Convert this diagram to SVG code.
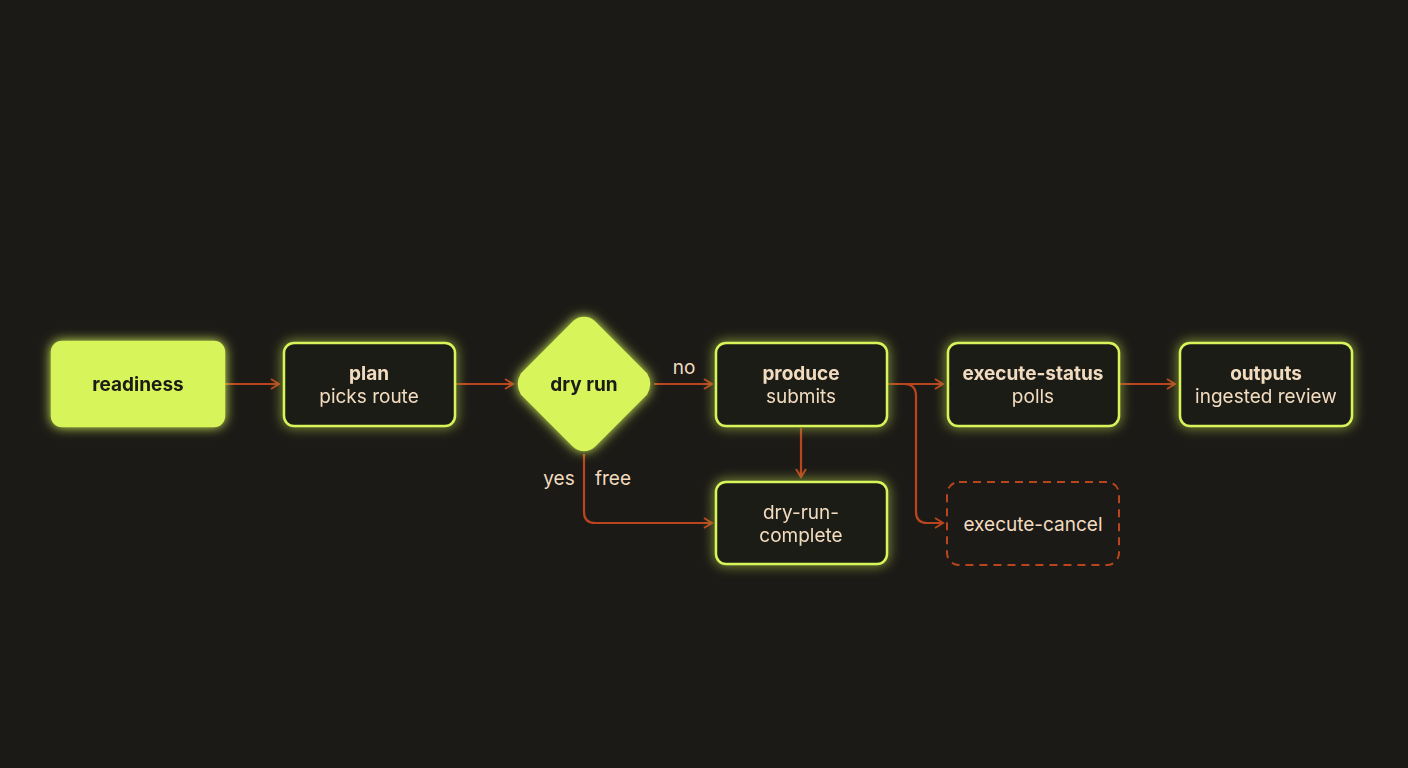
<svg xmlns="http://www.w3.org/2000/svg" width="1408" height="768" viewBox="0 0 1408 768">
<defs>
<filter id="glow" x="-30%" y="-30%" width="160%" height="160%"><feGaussianBlur stdDeviation="6" result="b"/><feMerge><feMergeNode in="b"/><feMergeNode in="SourceGraphic"/></feMerge></filter>
<marker id="ah" viewBox="0 0 12 12" refX="10" refY="6" markerWidth="12" markerHeight="12" markerUnits="userSpaceOnUse" orient="auto"><path d="M2,1 L10,6 L2,11" fill="none" stroke="#b8451e" stroke-width="2"/></marker>
<style>
.box{fill:#1c1a16;stroke:#d7f55a;stroke-width:2.5}
.fill{fill:#d7f55a;stroke:#d7f55a;stroke-width:2.5}
.t{font-family:Inter,"Liberation Sans",sans-serif;font-size:19px;fill:#f2dcc0;text-anchor:middle}
.b{font-weight:700}
.d{fill:#1c1a16}
.c{fill:none;stroke:#b8451e;stroke-width:2.2}
</style>
</defs>
<rect width="1408" height="768" fill="#1c1a16"/>
<g id="connectors">
<path class="c" d="M225,384 H279" marker-end="url(#ah)"/>
<path class="c" d="M456,384 H513" marker-end="url(#ah)"/>
<path class="c" d="M654,384 H712" marker-end="url(#ah)"/>
<path class="c" d="M801,428 V477" marker-end="url(#ah)"/>
<path class="c" d="M584,454 V512 Q584,523 595,523 H712" marker-end="url(#ah)"/>
<path class="c" d="M888,384 H943" marker-end="url(#ah)"/>
<path class="c" d="M904,384 Q916,384 916,396 V512 Q916,523 927,523 H943" marker-end="url(#ah)"/>
<path class="c" d="M1120,384 H1175" marker-end="url(#ah)"/>
<text class="t" x="684" y="374">no</text>
<text class="t" x="559" y="485">yes</text>
<text class="t" x="613" y="485">free</text>
</g>
<g id="readiness" filter="url(#glow)"><rect class="fill" x="52" y="342" width="172" height="84" rx="10"/><text class="t b d" x="138" y="391">readiness</text></g>
<g id="plan" filter="url(#glow)"><rect class="box" x="284" y="343" width="171" height="83" rx="10"/><text class="t b" x="369" y="380">plan</text><text class="t" x="369" y="403">picks route</text></g>
<g id="dryrun" filter="url(#glow)"><path class="fill" d="M584,318 Q590,318 594,322 L646,374 Q652,384 646,394 L594,446 Q584,454 574,446 L522,394 Q516,384 522,374 L574,322 Q578,318 584,318 Z"/><text class="t b d" x="584" y="391">dry run</text></g>
<g id="produce" filter="url(#glow)"><rect class="box" x="716" y="343" width="171" height="83" rx="10"/><text class="t b" x="801" y="380">produce</text><text class="t" x="801" y="403">submits</text></g>
<g id="status" filter="url(#glow)"><rect class="box" x="948" y="343" width="171" height="83" rx="10"/><text class="t b" x="1033" y="380">execute-status</text><text class="t" x="1033" y="403">polls</text></g>
<g id="outputs" filter="url(#glow)"><rect class="box" x="1180" y="343" width="172" height="83" rx="10"/><text class="t b" x="1266" y="380">outputs</text><text class="t" x="1266" y="403">ingested review</text></g>
<g id="complete" filter="url(#glow)"><rect class="box" x="716" y="482" width="171" height="82" rx="10"/><text class="t" x="801" y="519">dry-run-</text><text class="t" x="801" y="542">complete</text></g>
<g id="cancel"><rect x="947" y="482" width="172" height="83" rx="12" fill="none" stroke="#b8451e" stroke-width="2" stroke-dasharray="8,6"/><text class="t" x="1033" y="531">execute-cancel</text></g>
</svg>
